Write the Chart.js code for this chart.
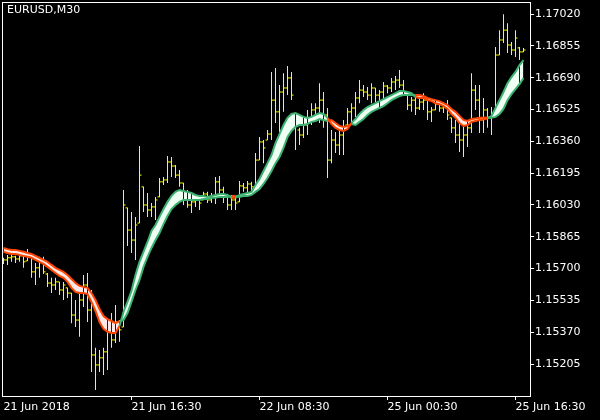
<!DOCTYPE html>
<html>
<head>
<meta charset="utf-8">
<title>EURUSD,M30</title>
<script src="https://cdn.jsdelivr.net/npm/chart.js@4.4.1/dist/chart.umd.min.js"></script>
<style>
  html, body { margin: 0; padding: 0; background: #000; }
  #wrap { width: 600px; height: 420px; }
</style>
</head>
<body>
<div id="wrap"><canvas id="price-chart" width="600" height="420"></canvas></div>
<script>
/* EURUSD M30 bars, 131 bars */
var symbolTitle = "EURUSD,M30";

var opens = [
  1.15735, 1.15745, 1.15756, 1.15761, 1.15750, 1.15766, 1.15740, 1.15761, 1.15683, 1.15704,
  1.15735, 1.15672, 1.15625, 1.15615, 1.15631, 1.15589, 1.15600, 1.15573, 1.15459, 1.15433,
  1.15537, 1.15615, 1.15485, 1.15252, 1.15200, 1.15237, 1.15268, 1.15382, 1.15330, 1.15423,
  1.15397, 1.16015, 1.15900, 1.15848, 1.15936, 1.16124, 1.16030, 1.16004, 1.16020, 1.16072,
  1.16150, 1.16160, 1.16253, 1.16232, 1.16185, 1.16144, 1.16082, 1.16030, 1.16046, 1.16056,
  1.16056, 1.16087, 1.16056, 1.16077, 1.16150, 1.16108, 1.16082, 1.16030, 1.16056, 1.16046,
  1.16129, 1.16119, 1.16139, 1.16124, 1.16263, 1.16357, 1.16367, 1.16398, 1.16574, 1.16513,
  1.16616, 1.16637, 1.16689, 1.16497, 1.16419, 1.16393, 1.16445, 1.16482, 1.16523, 1.16533,
  1.16574, 1.16497, 1.16263, 1.16367, 1.16341, 1.16393, 1.16445, 1.16513, 1.16533, 1.16585,
  1.16626, 1.16616, 1.16600, 1.16637, 1.16600, 1.16616, 1.16647, 1.16637, 1.16668, 1.16678,
  1.16652, 1.16610, 1.16548, 1.16574, 1.16533, 1.16564, 1.16574, 1.16513, 1.16523, 1.16553,
  1.16533, 1.16543, 1.16482, 1.16430, 1.16393, 1.16367, 1.16393, 1.16430, 1.16626, 1.16574,
  1.16471, 1.16523, 1.16482, 1.16497, 1.16808, 1.16886, 1.16937, 1.16860, 1.16834, 1.16845,
  1.16824
];
var highs = [
  1.15756, 1.15771, 1.15771, 1.15766, 1.15781, 1.15781, 1.15801, 1.15761, 1.15729, 1.15761,
  1.15761, 1.15677, 1.15652, 1.15652, 1.15631, 1.15631, 1.15600, 1.15573, 1.15537, 1.15573,
  1.15667, 1.15677, 1.15589, 1.15289, 1.15278, 1.15289, 1.15433, 1.15469, 1.15511, 1.15433,
  1.16108, 1.16015, 1.15994, 1.15968, 1.16336, 1.16124, 1.16092, 1.16040, 1.16072, 1.16170,
  1.16175, 1.16284, 1.16279, 1.16237, 1.16211, 1.16144, 1.16108, 1.16067, 1.16082, 1.16056,
  1.16098, 1.16098, 1.16092, 1.16175, 1.16180, 1.16124, 1.16082, 1.16082, 1.16072, 1.16155,
  1.16144, 1.16155, 1.16150, 1.16299, 1.16383, 1.16367, 1.16419, 1.16720, 1.16741, 1.16652,
  1.16714, 1.16751, 1.16720, 1.16507, 1.16430, 1.16471, 1.16523, 1.16558, 1.16558, 1.16662,
  1.16616, 1.16533, 1.16419, 1.16409, 1.16445, 1.16471, 1.16533, 1.16558, 1.16616, 1.16678,
  1.16652, 1.16642, 1.16662, 1.16637, 1.16626, 1.16668, 1.16652, 1.16689, 1.16699, 1.16730,
  1.16678, 1.16610, 1.16590, 1.16590, 1.16585, 1.16610, 1.16585, 1.16538, 1.16574, 1.16564,
  1.16564, 1.16574, 1.16482, 1.16471, 1.16497, 1.16435, 1.16461, 1.16714, 1.16652, 1.16652,
  1.16585, 1.16533, 1.16538, 1.16850, 1.16937, 1.17020, 1.16973, 1.16876, 1.16937, 1.16850,
  1.16845
];
var lows = [
  1.15724, 1.15719, 1.15735, 1.15729, 1.15735, 1.15704, 1.15740, 1.15652, 1.15615, 1.15652,
  1.15672, 1.15605, 1.15573, 1.15589, 1.15563, 1.15537, 1.15548, 1.15417, 1.15397, 1.15346,
  1.15501, 1.15423, 1.15164, 1.15070, 1.15164, 1.15148, 1.15174, 1.15289, 1.15314, 1.15320,
  1.15397, 1.15817, 1.15781, 1.15745, 1.15936, 1.15994, 1.15968, 1.15968, 1.15952, 1.16072,
  1.16134, 1.16144, 1.16175, 1.16170, 1.16124, 1.16030, 1.16015, 1.15988, 1.16020, 1.16004,
  1.16056, 1.16040, 1.16040, 1.16035, 1.16067, 1.16040, 1.16004, 1.16004, 1.16004, 1.16046,
  1.16098, 1.16092, 1.16092, 1.16124, 1.16263, 1.16247, 1.16367, 1.16367, 1.16455, 1.16409,
  1.16513, 1.16600, 1.16574, 1.16315, 1.16341, 1.16378, 1.16393, 1.16445, 1.16487, 1.16455,
  1.16430, 1.16170, 1.16247, 1.16299, 1.16289, 1.16289, 1.16445, 1.16461, 1.16487, 1.16558,
  1.16590, 1.16574, 1.16558, 1.16564, 1.16548, 1.16564, 1.16610, 1.16616, 1.16626, 1.16637,
  1.16610, 1.16523, 1.16513, 1.16497, 1.16523, 1.16523, 1.16471, 1.16461, 1.16523, 1.16513,
  1.16507, 1.16471, 1.16403, 1.16351, 1.16305, 1.16279, 1.16331, 1.16403, 1.16523, 1.16403,
  1.16403, 1.16430, 1.16393, 1.16487, 1.16808, 1.16870, 1.16818, 1.16808, 1.16798, 1.16782,
  1.16824
];
var closes = [
  1.15745, 1.15756, 1.15761, 1.15750, 1.15766, 1.15735, 1.15766, 1.15683, 1.15704, 1.15735,
  1.15683, 1.15625, 1.15615, 1.15631, 1.15589, 1.15615, 1.15573, 1.15459, 1.15433, 1.15537,
  1.15615, 1.15485, 1.15252, 1.15200, 1.15237, 1.15268, 1.15382, 1.15330, 1.15423, 1.15382,
  1.16030, 1.15900, 1.15848, 1.15926, 1.16185, 1.16030, 1.16004, 1.16020, 1.16056, 1.16150,
  1.16160, 1.16253, 1.16232, 1.16185, 1.16144, 1.16082, 1.16030, 1.16046, 1.16056, 1.16040,
  1.16087, 1.16056, 1.16077, 1.16150, 1.16108, 1.16082, 1.16030, 1.16056, 1.16040, 1.16129,
  1.16119, 1.16139, 1.16124, 1.16263, 1.16357, 1.16326, 1.16398, 1.16574, 1.16513, 1.16616,
  1.16637, 1.16689, 1.16600, 1.16445, 1.16393, 1.16445, 1.16482, 1.16523, 1.16533, 1.16574,
  1.16497, 1.16263, 1.16367, 1.16341, 1.16393, 1.16430, 1.16513, 1.16533, 1.16585, 1.16626,
  1.16616, 1.16600, 1.16637, 1.16600, 1.16616, 1.16647, 1.16637, 1.16668, 1.16678, 1.16652,
  1.16616, 1.16548, 1.16574, 1.16533, 1.16564, 1.16574, 1.16513, 1.16523, 1.16553, 1.16533,
  1.16543, 1.16497, 1.16430, 1.16393, 1.16367, 1.16393, 1.16430, 1.16626, 1.16574, 1.16471,
  1.16523, 1.16482, 1.16497, 1.16808, 1.16886, 1.16937, 1.16860, 1.16834, 1.16896, 1.16824,
  1.16834
];

/* the two moving averages of the band */
var fastMA = [
  1.15787, 1.15781, 1.15776, 1.15776, 1.15771, 1.15766, 1.15761, 1.15756, 1.15745, 1.15735,
  1.15724, 1.15709, 1.15693, 1.15677, 1.15662, 1.15652, 1.15631, 1.15600, 1.15579, 1.15573,
  1.15573, 1.15568, 1.15527, 1.15480, 1.15423, 1.15387, 1.15372, 1.15366, 1.15366, 1.15402,
  1.15475, 1.15527, 1.15584, 1.15667, 1.15735, 1.15787, 1.15838, 1.15895, 1.15926, 1.15968,
  1.16009, 1.16046, 1.16077, 1.16098, 1.16108, 1.16103, 1.16098, 1.16092, 1.16082, 1.16077,
  1.16077, 1.16072, 1.16077, 1.16082, 1.16087, 1.16087, 1.16082, 1.16067, 1.16067, 1.16082,
  1.16087, 1.16092, 1.16098, 1.16134, 1.16165, 1.16206, 1.16247, 1.16289, 1.16351, 1.16398,
  1.16445, 1.16482, 1.16502, 1.16507, 1.16497, 1.16487, 1.16482, 1.16487, 1.16497, 1.16507,
  1.16502, 1.16482, 1.16450, 1.16430, 1.16419, 1.16414, 1.16424, 1.16455, 1.16476, 1.16502,
  1.16523, 1.16538, 1.16548, 1.16558, 1.16569, 1.16579, 1.16590, 1.16600, 1.16610, 1.16621,
  1.16621, 1.16616, 1.16610, 1.16590, 1.16585, 1.16585, 1.16574, 1.16569, 1.16558, 1.16553,
  1.16543, 1.16528, 1.16502, 1.16482, 1.16455, 1.16440, 1.16445, 1.16461, 1.16466, 1.16471,
  1.16474, 1.16479, 1.16492, 1.16533, 1.16574, 1.16616, 1.16662, 1.16693, 1.16720, 1.16756,
  1.16782
];
var slowMA = [
  1.15807, 1.15801, 1.15797, 1.15797, 1.15792, 1.15787, 1.15781, 1.15776, 1.15766, 1.15756,
  1.15745, 1.15735, 1.15719, 1.15704, 1.15693, 1.15683, 1.15667, 1.15646, 1.15625, 1.15610,
  1.15605, 1.15600, 1.15573, 1.15537, 1.15490, 1.15454, 1.15438, 1.15428, 1.15417, 1.15428,
  1.15433, 1.15469, 1.15527, 1.15589, 1.15641, 1.15709, 1.15761, 1.15807, 1.15848, 1.15884,
  1.15931, 1.15973, 1.16009, 1.16030, 1.16046, 1.16056, 1.16056, 1.16056, 1.16056, 1.16056,
  1.16061, 1.16061, 1.16067, 1.16067, 1.16072, 1.16072, 1.16072, 1.16077, 1.16077, 1.16072,
  1.16077, 1.16077, 1.16082, 1.16098, 1.16113, 1.16139, 1.16170, 1.16206, 1.16247, 1.16279,
  1.16326, 1.16383, 1.16414, 1.16435, 1.16445, 1.16445, 1.16450, 1.16461, 1.16466, 1.16476,
  1.16471, 1.16466, 1.16471, 1.16455, 1.16440, 1.16435, 1.16440, 1.16450, 1.16445, 1.16461,
  1.16476, 1.16497, 1.16513, 1.16523, 1.16533, 1.16543, 1.16558, 1.16574, 1.16585, 1.16595,
  1.16600, 1.16600, 1.16600, 1.16600, 1.16600, 1.16595, 1.16585, 1.16579, 1.16574, 1.16569,
  1.16558, 1.16548, 1.16528, 1.16513, 1.16492, 1.16471, 1.16466, 1.16476, 1.16479, 1.16482,
  1.16482, 1.16484, 1.16482, 1.16487, 1.16502, 1.16528, 1.16574, 1.16605, 1.16631, 1.16657,
  1.16689
];

/* bars where the blue histogram line shows inside the band */
var blueBars = [20, 21, 26, 27, 28, 29, 45, 46, 47, 73, 75, 76, 80, 85, 94, 100, 108, 116, 129];

/* axis labels */
var yTicks = [1.15205, 1.15370, 1.15535, 1.15700, 1.15865, 1.16030, 1.16195, 1.16360, 1.16525, 1.16690, 1.16855, 1.17020];
var xTickIndex = [0, 32, 64, 96, 128];
var xTickLabels = ["21 Jun 2018", "21 Jun 16:30", "22 Jun 08:30", "25 Jun 00:30", "25 Jun 16:30"];

var upColor = "#3cb371";
var downColor = "#ff4500";
var barColor = "#ffff00";
var axisFont = { family: "DejaVu Sans", size: 11 };

function trendColor(ctx) {
  var a = ctx.p0DataIndex, b = ctx.p1DataIndex;
  return (fastMA[a] + fastMA[b] >= slowMA[a] + slowMA[b]) ? upColor : downColor;
}

// labels hang outside the plot, so drop the padding chart.js reserves for them
function noPadding(s) {
  s.paddingTop = 0; s.paddingBottom = 0; s.paddingLeft = 0; s.paddingRight = 0;
}

var framePlugin = {
  id: "frame",
  beforeDraw: function (chart) {
    var c = chart.ctx;
    c.save();
    c.fillStyle = "#000";
    c.fillRect(0, 0, chart.width, chart.height);
    c.restore();
  },
  afterDraw: function (chart) {
    var a = chart.chartArea, c = chart.ctx;
    c.save();
    c.strokeStyle = "#fff";
    c.lineWidth = 1;
    c.strokeRect(a.left + 0.5, a.top + 0.5, a.right - a.left, a.bottom - a.top);
    c.fillStyle = "#fff";
    c.font = '11px "DejaVu Sans"';
    c.textBaseline = "top";
    c.fillText(symbolTitle, 7, 5);
    c.restore();
  }
};

function renderPriceChart() {
  var ctx = document.getElementById("price-chart");
  var idx = opens.map(function (v, i) { return i; });

  var myChart = new Chart(ctx, {
    type: "bar",
    data: {
      datasets: [
        {
          type: "line", label: "fast",
          data: idx.map(function (i) { return { x: i, y: fastMA[i] }; }),
          borderColor: upColor, borderWidth: 2, pointRadius: 0,
          segment: { borderColor: trendColor },
          fill: false, order: 0
        },
        {
          type: "line", label: "slow",
          data: idx.map(function (i) { return { x: i, y: slowMA[i] }; }),
          borderColor: upColor, borderWidth: 2, pointRadius: 0,
          segment: { borderColor: trendColor },
          fill: false, order: 1
        },
        {
          type: "line", label: "band",
          data: idx.map(function (i) { return { x: i, y: fastMA[i] }; }),
          borderColor: "rgba(0,0,0,0)", borderWidth: 0, pointRadius: 0,
          fill: { target: 1, above: "#effff3", below: "#ffe8e8" },
          order: 3
        },
        {
          type: "bar", label: "range",
          data: idx.map(function (i) { return { x: i, y: [lows[i], highs[i]] }; }),
          backgroundColor: barColor, barThickness: 1, grouped: false,
          inflateAmount: 0, borderWidth: 0, order: 5
        },
        {
          type: "line", label: "open", showLine: false,
          data: idx.map(function (i) { return { x: i - 0.25, y: opens[i] }; }),
          pointStyle: "line", pointRadius: 1, pointBorderWidth: 1, pointHoverRadius: 1,
          pointBorderColor: barColor, borderColor: barColor, order: 4
        },
        {
          type: "line", label: "close", showLine: false,
          data: idx.map(function (i) { return { x: i + 0.25, y: closes[i] }; }),
          pointStyle: "line", pointRadius: 1, pointBorderWidth: 1, pointHoverRadius: 1,
          pointBorderColor: barColor, borderColor: barColor, order: 4
        },
        {
          type: "bar", label: "blue",
          data: blueBars.map(function (i) { return { x: i, y: [slowMA[i], fastMA[i]] }; }),
          backgroundColor: "#0000ff", barThickness: 1, grouped: false,
          inflateAmount: 0, borderWidth: 0, order: 2
        }
      ]
    },
    options: {
      responsive: false,
      animation: false,
      devicePixelRatio: 1,
      layout: { autoPadding: false, padding: { left: 2, top: 2, right: 0, bottom: 0 } },
      plugins: { legend: { display: false }, tooltip: { enabled: false } },
      scales: {
        x: {
          type: "linear", position: "bottom",
          min: -0.375, max: 131.625, offset: false,
          afterBuildTicks: function (s) { s.ticks = xTickIndex.map(function (v) { return { value: v }; }); },
          afterFit: function (s) { s.height = 24; noPadding(s); },
          ticks: {
            color: "#fff", font: axisFont, autoSkip: false, maxRotation: 0,
            align: "start", padding: 1,
            callback: function (v) { return xTickLabels[xTickIndex.indexOf(v)]; }
          },
          grid: {
            display: true, drawOnChartArea: false, drawTicks: true, tickLength: 4, offset: false,
            color: function (c) { return c.index === 0 ? "rgba(0,0,0,0)" : "#fff"; }
          },
          border: { display: false }
        },
        y: {
          type: "linear", position: "right",
          min: 1.15039, max: 1.17083,
          afterBuildTicks: function (s) { s.ticks = yTicks.map(function (v) { return { value: v }; }); },
          afterFit: function (s) { s.width = 70; noPadding(s); },
          ticks: {
            color: "#fff", font: axisFont, padding: 1,
            callback: function (v) { return Number(v).toFixed(5); }
          },
          grid: { display: true, drawOnChartArea: false, drawTicks: true, tickLength: 4, color: "#fff" },
          border: { display: false }
        }
      }
    },
    plugins: [framePlugin]
  });
}

renderPriceChart();
</script>
</body>
</html>
